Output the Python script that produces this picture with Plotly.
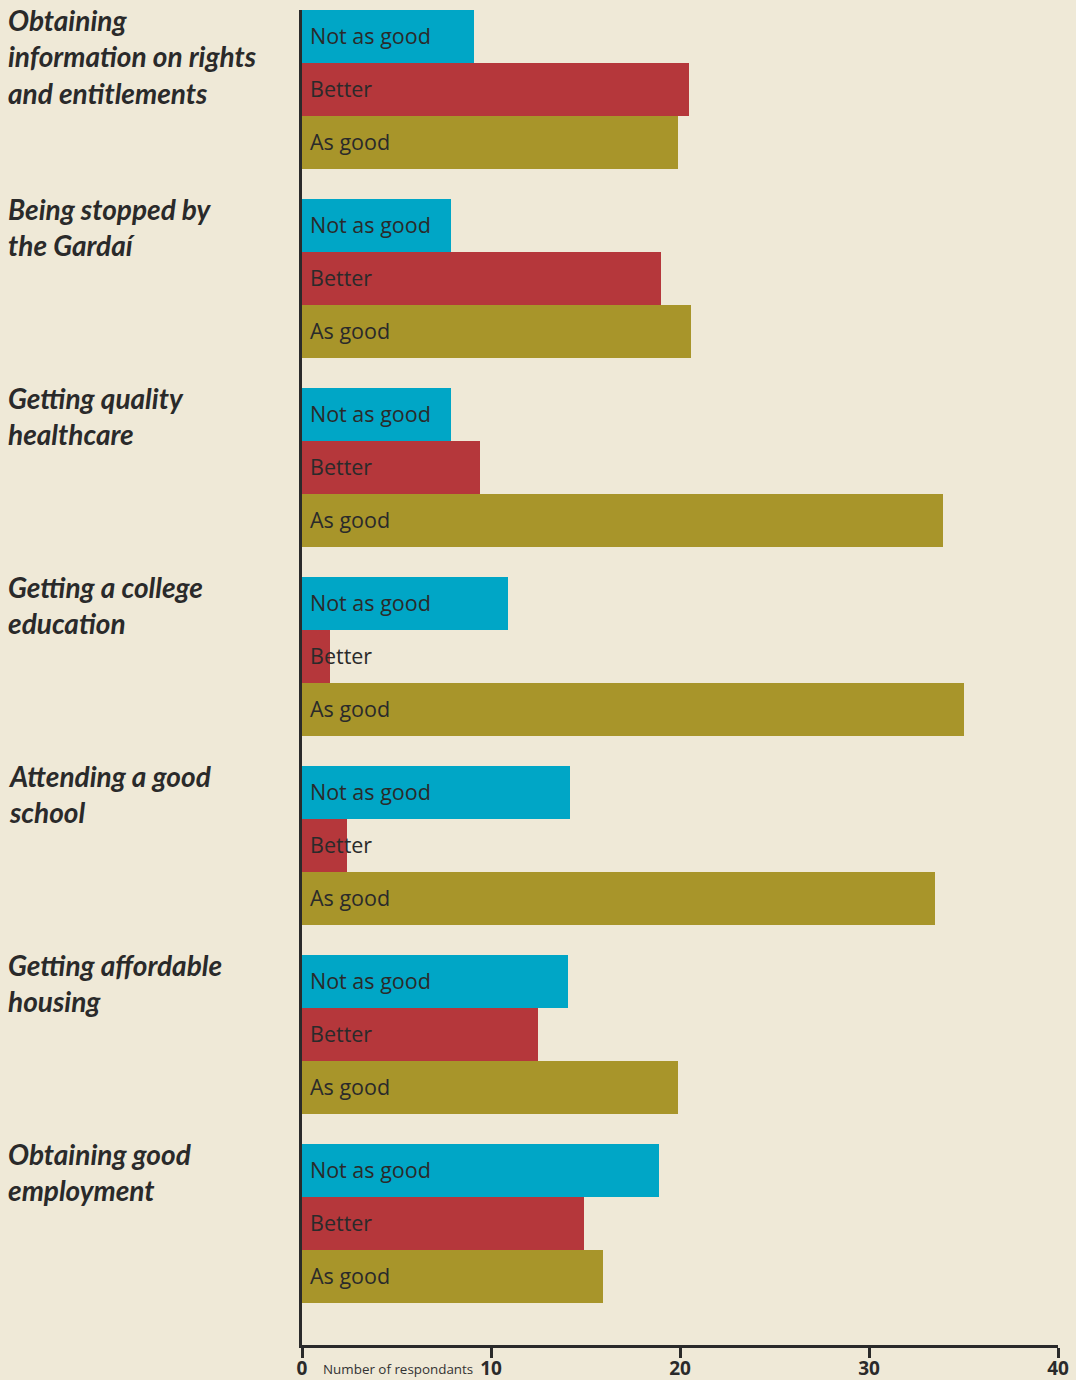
import plotly.graph_objects as go

categories = [
    "Obtaining<br>information on rights<br>and entitlements",
    "Being stopped by<br>the Gardaí",
    "Getting quality<br>healthcare",
    "Getting a college<br>education",
    "Attending a good<br>school",
    "Getting affordable<br>housing",
    "Obtaining good<br>employment",
]
series_names = ["Not as good", "Better", "As good"]
not_as_good = [9.1, 7.9, 7.9, 10.9, 14.2, 14.1, 18.9]
better = [20.5, 19.0, 9.4, 1.5, 2.4, 12.5, 14.9]
as_good = [19.9, 20.6, 33.9, 35.0, 33.5, 19.9, 15.9]
x_ticks = [0, 10, 20, 30, 40]

colors = ["#00A6C6", "#B5373B", "#A8952A"]
BG = "#EFE9D7"
INK = "#2a2a2a"
PITCH = 189 / 53.0  # group spacing in bar-thickness units

series = [not_as_good, better, as_good]
fig = go.Figure()
annotations = []
for j, (name, vals, col) in enumerate(zip(series_names, series, colors)):
    ys = [i * PITCH + j for i in range(len(categories))]
    fig.add_trace(go.Bar(
        x=vals, y=ys, orientation="h", width=1.0,
        marker=dict(color=col, line=dict(width=0)),
        name=name, hoverinfo="skip", showlegend=False,
    ))
    for y in ys:
        annotations.append(dict(
            x=0, y=y, xref="x", yref="y", text=name, showarrow=False,
            xanchor="left", yanchor="middle", xshift=6, yshift=1,
            font=dict(family="Open Sans", size=21.5, color=INK),
        ))

for i, cat in enumerate(categories):
    annotations.append(dict(
        x=-296 / 756.0, y=i * PITCH - 0.5, xref="paper", yref="y",
        text="<b><i>" + cat + "</i></b>", showarrow=False, align="left",
        xanchor="left", yanchor="top", yshift=9,
        font=dict(family="Lato", size=28, color=INK),
    ))

annotations.append(dict(
    x=0, y=0, xref="paper", yref="paper", text="Number of respondants",
    showarrow=False, xanchor="left", yanchor="top", xshift=19, yshift=-13,
    font=dict(family="Open Sans", size=13.4, color="#333333"),
))

height_px = 1335
fig.update_layout(
    width=1076, height=1380,
    margin=dict(l=302, r=18, t=10, b=35),
    paper_bgcolor=BG, plot_bgcolor=BG,
    bargap=0, barmode="overlay",
    annotations=annotations,
    xaxis=dict(
        range=[0, 40], tickvals=x_ticks, ticktext=[str(t) for t in x_ticks],
        showgrid=False, zeroline=False, showline=True, linecolor=INK,
        linewidth=3, ticks="outside", ticklen=10, tickwidth=3, tickcolor=INK,
        ticklabelstandoff=-6,
        tickfont=dict(family="Open Sans", size=19, color=INK, weight=700),
        fixedrange=True, automargin=False,
    ),
    yaxis=dict(
        range=[-0.5 + height_px / 53.0, -0.5],
        showgrid=False, zeroline=False, showline=True, linecolor=INK,
        linewidth=3, showticklabels=False, ticks="", fixedrange=True,
        automargin=False,
    ),
)

fig.write_html("out.html")
